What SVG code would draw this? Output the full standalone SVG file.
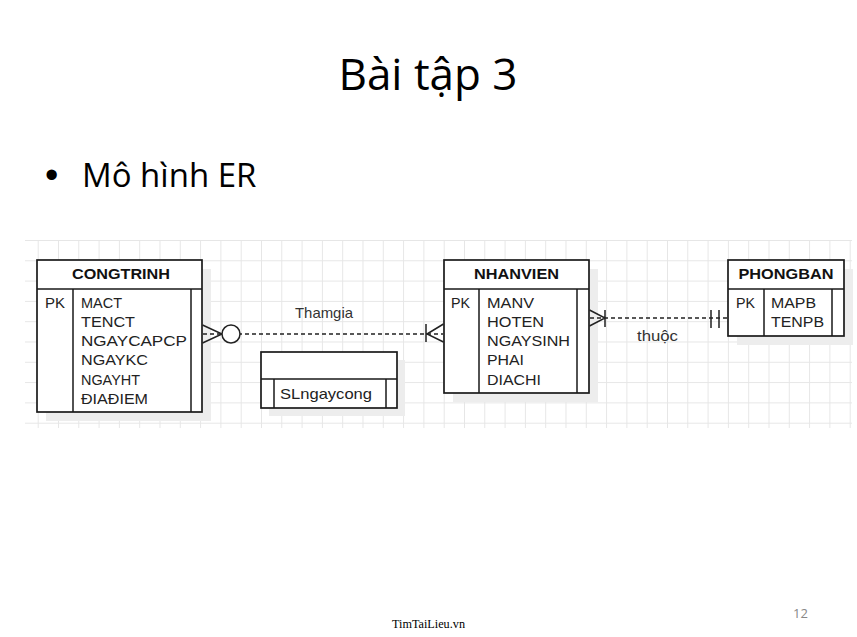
<svg xmlns="http://www.w3.org/2000/svg" width="857" height="637" viewBox="0 0 857 637">
<defs>
<pattern id="grid" patternUnits="userSpaceOnUse" x="37.7" y="240" width="20.3" height="20.3">
<path d="M0 0.5H20.3M0.5 0V20.3" fill="none" stroke="#e6e6e6" stroke-width="1"/>
</pattern>
<style>
.title{font-family:"Open Sans","Noto Sans",sans-serif;fill:#000}
.ent{fill:#fff;stroke:#1a1a1a;stroke-width:1.7}
.div{stroke:#1a1a1a;stroke-width:1.5;fill:none}
.shadow{fill:#ededed}
.hdr{font-family:"Liberation Sans",Arial,sans-serif;font-weight:bold;font-size:14.5px;fill:#111;text-anchor:middle}
.att{font-family:"Liberation Sans",Arial,sans-serif;font-size:14.5px;fill:#222}
.lbl{font-family:"Liberation Sans",Arial,sans-serif;font-size:14.5px;fill:#333}
.dash{stroke:#222;stroke-width:1.4;stroke-dasharray:4 3;fill:none}
.mk{stroke:#222;stroke-width:1.5;fill:none}
</style>
</defs>
<rect width="857" height="637" fill="#fff"/>
<text class="title" x="428" y="90" font-size="44" text-anchor="middle">Bài tập 3</text>
<text x="45" y="188" font-family="Liberation Sans,Arial,sans-serif" font-size="38" fill="#000">•</text>
<text class="title" x="82" y="187" font-size="33">Mô hình ER</text>

<rect x="25" y="240" width="827" height="188" fill="url(#grid)"/>

<g id="CONGTRINH">
<rect class="shadow" x="46" y="269" width="165" height="152"/>
<rect class="ent" x="37" y="260" width="165" height="152"/>
<path class="div" d="M37 289H202M73 289V412M191 289V412"/>
<text class="hdr" x="121" y="279" textLength="98" lengthAdjust="spacingAndGlyphs">CONGTRINH</text>
<text class="att" x="45" y="307.5" textLength="20" lengthAdjust="spacingAndGlyphs">PK</text>
<text class="att" x="81" y="307.5" textLength="41" lengthAdjust="spacingAndGlyphs">MACT</text>
<text class="att" x="81" y="326.8" textLength="54" lengthAdjust="spacingAndGlyphs">TENCT</text>
<text class="att" x="81" y="346.1" textLength="106" lengthAdjust="spacingAndGlyphs">NGAYCAPCP</text>
<text class="att" x="81" y="365.4" textLength="67" lengthAdjust="spacingAndGlyphs">NGAYKC</text>
<text class="att" x="81" y="384.7" textLength="59" lengthAdjust="spacingAndGlyphs">NGAYHT</text>
<text class="att" x="81" y="404" textLength="67" lengthAdjust="spacingAndGlyphs">ĐIAĐIEM</text>
</g>

<g id="SLngaycong">
<rect class="shadow" x="269" y="360" width="136" height="56"/>
<rect class="ent" x="261" y="352" width="136" height="56"/>
<path class="div" d="M261 379H397M274 379V408M386 379V408"/>
<text class="att" x="280" y="399" textLength="92" lengthAdjust="spacingAndGlyphs">SLngaycong</text>
</g>

<g id="NHANVIEN">
<rect class="shadow" x="453" y="269" width="145" height="133"/>
<rect class="ent" x="444" y="260" width="145" height="133"/>
<path class="div" d="M444 289H589M479 289V393M577 289V393"/>
<text class="hdr" x="516.5" y="279" textLength="85" lengthAdjust="spacingAndGlyphs">NHANVIEN</text>
<text class="att" x="451" y="307.5" textLength="19" lengthAdjust="spacingAndGlyphs">PK</text>
<text class="att" x="487" y="307.5" textLength="47" lengthAdjust="spacingAndGlyphs">MANV</text>
<text class="att" x="487" y="326.8" textLength="57" lengthAdjust="spacingAndGlyphs">HOTEN</text>
<text class="att" x="487" y="346.1" textLength="83" lengthAdjust="spacingAndGlyphs">NGAYSINH</text>
<text class="att" x="487" y="365.4" textLength="37" lengthAdjust="spacingAndGlyphs">PHAI</text>
<text class="att" x="487" y="384.7" textLength="54" lengthAdjust="spacingAndGlyphs">DIACHI</text>
</g>

<g id="PHONGBAN">
<rect class="shadow" x="737" y="269" width="116" height="76"/>
<rect class="ent" x="728" y="260" width="116" height="76"/>
<path class="div" d="M728 289H844M764 289V336M832 289V336"/>
<text class="hdr" x="786" y="279" textLength="95" lengthAdjust="spacingAndGlyphs">PHONGBAN</text>
<text class="att" x="736" y="307.5" textLength="19" lengthAdjust="spacingAndGlyphs">PK</text>
<text class="att" x="771" y="307.5" textLength="45" lengthAdjust="spacingAndGlyphs">MAPB</text>
<text class="att" x="771" y="326.8" textLength="53" lengthAdjust="spacingAndGlyphs">TENPB</text>
</g>

<g id="connectors">
<g id="thamgia">
<path class="dash" d="M203 334H443"/>
<path class="mk" d="M202.5 325L222 334L202.5 343"/>
<circle cx="231" cy="334" r="9" fill="#fff" stroke="#222" stroke-width="1.5"/>
<path class="mk" d="M426 324V342M443.5 324L427 334L443.5 342"/>
<text class="lbl" x="295" y="318" textLength="58" lengthAdjust="spacingAndGlyphs">Thamgia</text>
</g>
<g id="thuoc">
<path class="dash" d="M590 318H727"/>
<path class="mk" d="M589.5 310L605 318L589.5 326M605 310V327M711 310V328M719 310V328"/>
<text class="lbl" x="637" y="341" textLength="41" lengthAdjust="spacingAndGlyphs">thuộc</text>
</g>
</g>

<text x="392" y="628" font-family="Liberation Serif,serif" font-size="12" textLength="73" lengthAdjust="spacingAndGlyphs" fill="#000">TimTaiLieu.vn</text>
<text x="793" y="618" font-family="Open Sans,sans-serif" font-size="13" fill="#888">12</text>
</svg>
